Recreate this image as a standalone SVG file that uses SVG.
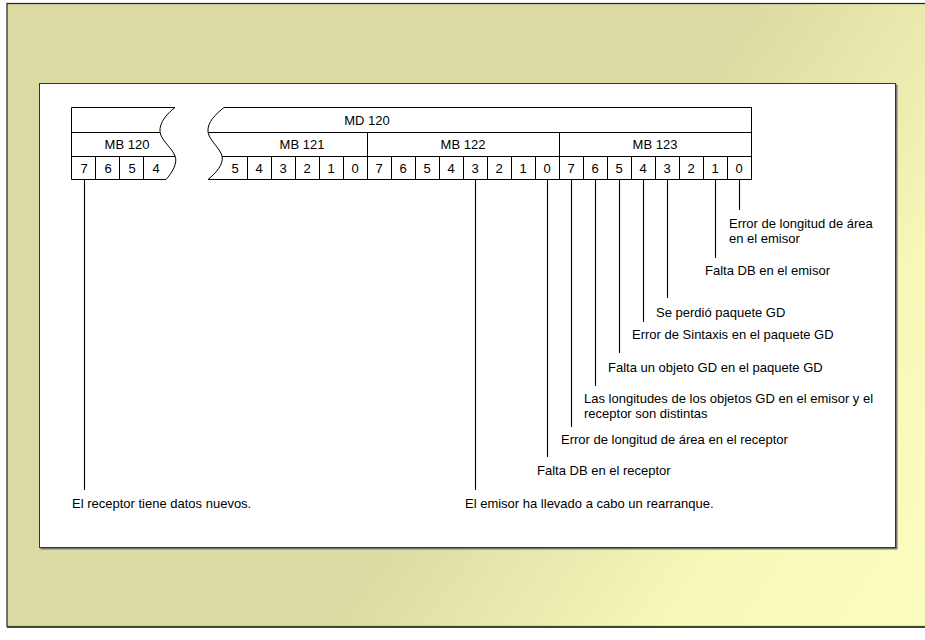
<svg xmlns="http://www.w3.org/2000/svg" width="925" height="640" viewBox="0 0 925 640">
  <defs>
    <linearGradient id="bg" gradientUnits="userSpaceOnUse" x1="0" y1="0" x2="925" y2="640">
      <stop offset="0" stop-color="#dcdba3"/>
      <stop offset="0.56" stop-color="#dcdba3"/>
      <stop offset="0.8" stop-color="#f7f7b8"/>
      <stop offset="1" stop-color="#fcfdc0"/>
    </linearGradient>
    <style>
      text { font-family: "Liberation Sans", Arial, sans-serif; font-size: 13px; fill: #000; }
      .c { text-anchor: middle; }
      .ln { stroke: #000; stroke-width: 1; fill: none; }
      .lead { stroke: #000; stroke-width: 1.1; fill: none; }
    </style>
  </defs>

  <!-- background frame -->
  <rect x="0" y="0" width="925" height="640" fill="#ffffff"/>
  <rect x="7" y="3.5" width="925" height="623" fill="url(#bg)" stroke="#222" stroke-width="1.2"/>
  <line x1="7" y1="627" x2="925" y2="627" stroke="#45452c" stroke-width="2"/>

  <!-- white panel with shadow -->
  <rect x="40.5" y="84.5" width="857" height="465" fill="#777"/>
  <rect x="39.5" y="83.5" width="856" height="464" fill="#fff" stroke="#333" stroke-width="1"/>

  <!-- register: MB 120 fragment -->
  <g id="mb120">
    <path class="ln" d="M175,107.5 H71.5 V179.5 H166"/>
    <path class="ln" d="M175,107.5 C168,113 159,122 160,132 C161,140 172,148 175,156 C178,163 172,173 166,179.5"/>
    <line class="ln" x1="71.5" y1="132.5" x2="160" y2="132.5"/>
    <line class="ln" x1="71.5" y1="156.5" x2="175" y2="156.5"/>
    <line class="ln" x1="95.5" y1="156.5" x2="95.5" y2="179.5"/>
    <line class="ln" x1="119.5" y1="156.5" x2="119.5" y2="179.5"/>
    <line class="ln" x1="143.5" y1="156.5" x2="143.5" y2="179.5"/>
    <text class="c" x="127" y="149">MB 120</text>
    <text class="c" x="84" y="173">7</text>
    <text class="c" x="108" y="173">6</text>
    <text class="c" x="132" y="173">5</text>
    <text class="c" x="156" y="173">4</text>
  </g>

  <!-- register: MD 120 / MB 121..123 -->
  <g id="md120">
    <path class="ln" d="M224,107.5 H751.5 V179.5 H208"/>
    <path class="ln" d="M224,107.5 C216,114 207,122 208,132 C209,140 220,148 222,156 C224,164 216,173 208,179.5"/>
    <line class="ln" x1="208" y1="132.5" x2="751.5" y2="132.5"/>
    <line class="ln" x1="222" y1="156.5" x2="751.5" y2="156.5"/>
    <line class="ln" x1="367.5" y1="132.5" x2="367.5" y2="156.5"/>
    <line class="ln" x1="559.5" y1="132.5" x2="559.5" y2="156.5"/>
    <path class="ln" d="M247.5,156.5V179.5M271.5,156.5V179.5M295.5,156.5V179.5M319.5,156.5V179.5M343.5,156.5V179.5M367.5,156.5V179.5M391.5,156.5V179.5M415.5,156.5V179.5M439.5,156.5V179.5M463.5,156.5V179.5M487.5,156.5V179.5M511.5,156.5V179.5M535.5,156.5V179.5M559.5,156.5V179.5M583.5,156.5V179.5M607.5,156.5V179.5M631.5,156.5V179.5M655.5,156.5V179.5M679.5,156.5V179.5M703.5,156.5V179.5M727.5,156.5V179.5"/>
    <text class="c" x="367" y="125">MD 120</text>
    <text class="c" x="302" y="149">MB 121</text>
    <text class="c" x="463" y="149">MB 122</text>
    <text class="c" x="655" y="149">MB 123</text>
    <g class="bits">
      <text class="c" x="235" y="173">5</text>
      <text class="c" x="259" y="173">4</text>
      <text class="c" x="283" y="173">3</text>
      <text class="c" x="307" y="173">2</text>
      <text class="c" x="331" y="173">1</text>
      <text class="c" x="355" y="173">0</text>
      <text class="c" x="379" y="173">7</text>
      <text class="c" x="403" y="173">6</text>
      <text class="c" x="427" y="173">5</text>
      <text class="c" x="451" y="173">4</text>
      <text class="c" x="475" y="173">3</text>
      <text class="c" x="499" y="173">2</text>
      <text class="c" x="523" y="173">1</text>
      <text class="c" x="547" y="173">0</text>
      <text class="c" x="571" y="173">7</text>
      <text class="c" x="595" y="173">6</text>
      <text class="c" x="619" y="173">5</text>
      <text class="c" x="643" y="173">4</text>
      <text class="c" x="667" y="173">3</text>
      <text class="c" x="691" y="173">2</text>
      <text class="c" x="715" y="173">1</text>
      <text class="c" x="739" y="173">0</text>
    </g>
  </g>

  <!-- connectors (leader lines) -->
  <g id="connectors">
    <line class="lead" x1="84.5" y1="180" x2="84.5" y2="490"/>
    <line class="lead" x1="475.5" y1="180" x2="475.5" y2="490"/>
    <line class="lead" x1="547.5" y1="180" x2="547.5" y2="457"/>
    <line class="lead" x1="571.5" y1="180" x2="571.5" y2="427"/>
    <line class="lead" x1="595.5" y1="180" x2="595.5" y2="386"/>
    <line class="lead" x1="619.5" y1="180" x2="619.5" y2="353"/>
    <line class="lead" x1="643.5" y1="180" x2="643.5" y2="322"/>
    <line class="lead" x1="667.5" y1="180" x2="667.5" y2="298"/>
    <line class="lead" x1="715.5" y1="180" x2="715.5" y2="258"/>
    <line class="lead" x1="739.5" y1="180" x2="739.5" y2="210"/>
  </g>

  <!-- labels -->
  <g id="lbl-receptor-datos"><text x="72" y="508">El receptor tiene datos nuevos.</text></g>
  <g id="lbl-emisor-rearranque"><text x="465" y="508">El emisor ha llevado a cabo un rearranque.</text></g>
  <g id="lbl-falta-db-receptor"><text x="537" y="475">Falta DB en el receptor</text></g>
  <g id="lbl-error-long-receptor"><text x="561" y="444">Error de longitud de área en el receptor</text></g>
  <g id="lbl-longitudes"><text x="584" y="403">Las longitudes de los objetos GD en el emisor y el</text><text x="584" y="418">receptor son distintas</text></g>
  <g id="lbl-falta-objeto"><text x="608" y="372">Falta un objeto GD en el paquete GD</text></g>
  <g id="lbl-sintaxis"><text x="632" y="339">Error de Sintaxis en el paquete GD</text></g>
  <g id="lbl-perdio"><text x="656" y="317">Se perdió paquete GD</text></g>
  <g id="lbl-falta-db-emisor"><text x="705" y="275">Falta DB en el emisor</text></g>
  <g id="lbl-error-long-emisor"><text x="729" y="228">Error de longitud de área</text><text x="729" y="243">en el emisor</text></g>
</svg>
